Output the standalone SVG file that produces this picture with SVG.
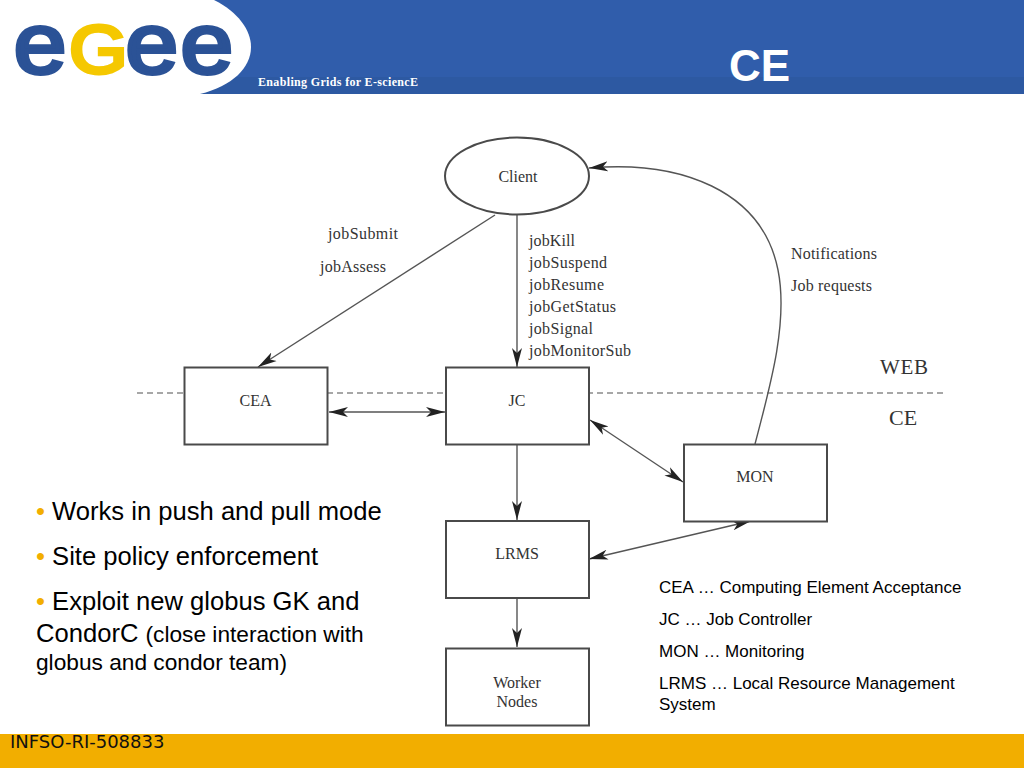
<svg xmlns="http://www.w3.org/2000/svg" width="1024" height="768" viewBox="0 0 1024 768">
<style>
.box{fill:#fff;stroke:#4a4a4a;stroke-width:2}
.lbl{font-family:"Liberation Serif",serif;font-size:16px;fill:#333}
.mid{text-anchor:middle}
.con{fill:none;stroke:#555;stroke-width:1.4}
.sans{font-family:"Liberation Sans",Arial,sans-serif;fill:#000}
.b{fill:#f2ae00}
</style>
<defs>
<marker id="ah" markerUnits="userSpaceOnUse" markerWidth="20" markerHeight="12" refX="19" refY="5" orient="auto-start-reverse" viewBox="0 0 20 10">
<path d="M0 0 L19 5 L0 10 L5 5 Z" fill="#222"/>
</marker>
</defs>
<rect width="1024" height="768" fill="#fff"/>
<g id="header">
<rect width="1024" height="94" fill="#305dab"/>
<rect y="77" width="1024" height="17" fill="#2d59a2"/>
<path d="M0 0 H214 C238 12 251 30 251 47 C251 68 232 86 200 94 H0 Z" fill="#fff"/>
<text id="logo" transform="scale(1.1 1)" y="73" font-family="Liberation Sans,sans-serif" font-size="86" fill="#2b5296" stroke="#2b5296" stroke-width="4"><tspan x="12.500">e</tspan><tspan x="63" fill="#f5c800" stroke="#f5c800" font-size="68">G</tspan><tspan x="114">e</tspan><tspan x="164">e</tspan></text>
<text x="258" y="86" font-family="Liberation Serif,serif" font-size="12" font-weight="bold" fill="#fff" textLength="160">Enabling Grids for E-sciencE</text>
<text x="729" y="81" font-family="Liberation Sans,sans-serif" font-size="44" font-weight="bold" fill="#fff">CE</text>
</g>
<g id="boundary">
<line x1="137" y1="393" x2="945" y2="393" stroke="#8a8a8a" stroke-width="1.4" stroke-dasharray="6 4"/>
<text class="lbl" x="880" y="374" style="font-size:21px" textLength="48">WEB</text>
<text class="lbl" x="889" y="425" style="font-size:22px">CE</text>
</g>
<g id="connectors">
<path class="con" d="M495 215 L258 367" marker-end="url(#ah)"/>
<path class="con" d="M517 215 V367" marker-end="url(#ah)"/>
<path class="con" d="M329 412 H445" marker-start="url(#ah)" marker-end="url(#ah)"/>
<path class="con" d="M590 420 L683 482" marker-start="url(#ah)" marker-end="url(#ah)"/>
<path class="con" d="M517 445 V520" marker-end="url(#ah)"/>
<path class="con" d="M589 559 L751 521" marker-start="url(#ah)" marker-end="url(#ah)"/>
<path class="con" d="M517 598 V647" marker-end="url(#ah)"/>
<path class="con" d="M755 444 C772 380 788 320 778 270 C762 190 680 160 589 168" marker-end="url(#ah)"/>
</g>
<g id="client"><ellipse class="box" cx="517" cy="176" rx="72" ry="38.500"/><text class="lbl mid" x="518" y="182">Client</text></g>
<g id="cea"><rect class="box" x="184.500" y="367.500" width="143" height="77"/><text class="lbl mid" x="255.500" y="406">CEA</text></g>
<g id="jc"><rect class="box" x="446" y="367.500" width="143" height="77"/><text class="lbl mid" x="517" y="406">JC</text></g>
<g id="mon"><rect class="box" x="684" y="444.500" width="143" height="77"/><text class="lbl mid" x="755" y="482">MON</text></g>
<g id="lrms"><rect class="box" x="446" y="521" width="143" height="77"/><text class="lbl mid" x="517" y="559">LRMS</text></g>
<g id="worker"><rect class="box" x="446" y="648.500" width="143" height="77"/><text class="lbl mid" x="517" y="688">Worker</text><text class="lbl mid" x="517" y="707">Nodes</text></g>
<g id="edge-labels">
<text class="lbl" x="328" y="239" textLength="70">jobSubmit</text>
<text class="lbl" x="320" y="272" textLength="66">jobAssess</text>
<text class="lbl" x="529" y="246" textLength="46">jobKill</text>
<text class="lbl" x="529" y="268" textLength="78">jobSuspend</text>
<text class="lbl" x="529" y="290" textLength="75">jobResume</text>
<text class="lbl" x="529" y="312" textLength="87">jobGetStatus</text>
<text class="lbl" x="529" y="334" textLength="64">jobSignal</text>
<text class="lbl" x="529" y="356" textLength="102">jobMonitorSub</text>
<text class="lbl" x="791" y="259" textLength="86">Notifications</text>
<text class="lbl" x="791" y="291" textLength="81">Job requests</text>
</g>
<g id="bullets">
<text class="sans" x="36" y="520" font-size="25.600"><tspan class="b">•</tspan> Works in push and pull mode</text>
<text class="sans" x="36" y="565" font-size="25.600"><tspan class="b">•</tspan> Site policy enforcement</text>
<text class="sans" x="36" y="610" font-size="25.600"><tspan class="b">•</tspan> Exploit new globus GK and</text>
<text class="sans" x="36" y="642" font-size="25.600">CondorC <tspan font-size="22.700">(close interaction with</tspan></text>
<text class="sans" x="36" y="670" font-size="22.700">globus and condor team)</text>
</g>
<g id="legend" font-size="17">
<text class="sans" x="659" y="593">CEA … Computing Element Acceptance</text>
<text class="sans" x="659" y="625">JC … Job Controller</text>
<text class="sans" x="659" y="657">MON … Monitoring</text>
<text class="sans" x="659" y="689">LRMS … Local Resource Management</text>
<text class="sans" x="659" y="710">System</text>
</g>
<g id="footer">
<rect y="734" width="1024" height="34" fill="#f2ae00"/>
<text x="10" y="748" font-family="DejaVu Sans,sans-serif" font-size="18" fill="#111">INFSO-RI-508833</text>
</g>
</svg>
